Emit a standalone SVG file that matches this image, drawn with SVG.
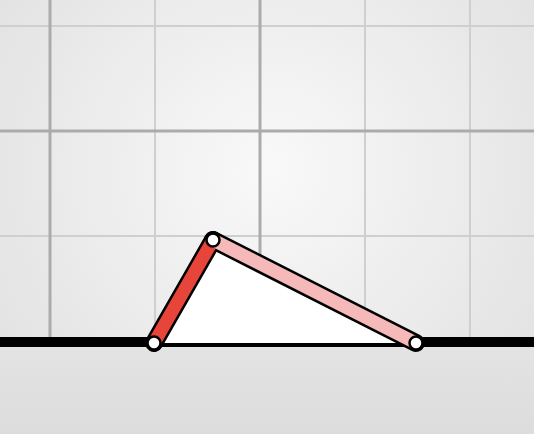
<svg xmlns="http://www.w3.org/2000/svg" width="534" height="434" viewBox="0 0 534 434">
<defs>
<radialGradient id="bg" cx="270" cy="170" r="330" gradientUnits="userSpaceOnUse">
<stop offset="0" stop-color="#f9f9f9"/>
<stop offset="1" stop-color="#e2e2e2"/>
</radialGradient>
<linearGradient id="floor" x1="0" y1="342" x2="0" y2="434" gradientUnits="userSpaceOnUse">
<stop offset="0" stop-color="#e4e4e4"/>
<stop offset="1" stop-color="#dcdcdc"/>
</linearGradient>
</defs>
<style>
.minor{stroke:#cfcfcf;stroke-width:2;fill:none}
.major{stroke:#ababab;stroke-width:3;fill:none}
.outline{stroke:#000;stroke-width:18;stroke-linecap:round;fill:none}
.bar{stroke-width:13;stroke-linecap:round;fill:none}
.joint{fill:#fff;stroke:#000;stroke-width:2.5}
</style>
<rect width="534" height="434" fill="url(#bg)"/>
<rect y="342" width="534" height="92" fill="url(#floor)"/>
<g id="grid">
<path class="minor" d="M155 0V342M365 0V342M470 0V342M0 26H534M0 236H534"/>
<path class="major" d="M50 0V342M260 0V342M0 131H534"/>
</g>
<line id="ground" x1="0" y1="342" x2="534" y2="342" stroke="#000" stroke-width="10"/>
<polygon id="triangle" points="154,343 213,240 416,343" fill="#fff"/>
<g id="connectors">
<line class="outline" x1="154" y1="343" x2="213" y2="240"/>
<line class="outline" x1="213" y1="240" x2="416" y2="343"/>
<line class="bar" x1="154" y1="343" x2="213" y2="240" stroke="#e8453a"/>
<line class="bar" x1="213" y1="240" x2="416" y2="343" stroke="#f4b9b8"/>
</g>
<g id="jointA"><circle class="joint" cx="154" cy="343" r="6.5"/></g>
<g id="jointB"><circle class="joint" cx="213" cy="240" r="6.5"/></g>
<g id="jointC"><circle class="joint" cx="416" cy="343" r="6.5"/></g>
</svg>
